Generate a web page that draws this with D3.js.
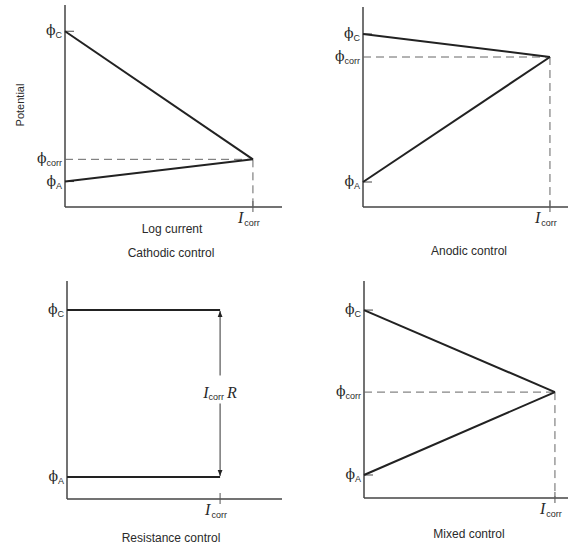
<!DOCTYPE html>
<html lang="en">
<head>
<meta charset="UTF-8">
<title>Corrosion control diagrams</title>
<script src="https://cdn.jsdelivr.net/npm/d3@7"></script>
<style>
  body { margin: 0; background: #fff; }
  text { fill: #2a2a2a; }
  .cap { font-family: "Liberation Sans", Arial, sans-serif; font-size: 12px; }
  .sym { font-family: "DejaVu Serif", serif; font-size: 14px; }
  .sub { font-family: "Liberation Sans", Arial, sans-serif; font-size: 9px; }
  .ital { font-family: "Liberation Serif", serif; font-style: italic; font-size: 16px; }
</style>
</head>
<body>
<script>
    // potentials and currents, on a 0-100 scale for each small diagram
    var titles  = ["Cathodic control", "Anodic control", "Resistance control", "Mixed control"];
    var phiC    = [87, 86.5, 86.7, 86.6];
    var phiCorr = [23.6, 75, null, 48.8];
    var phiA    = [12.6, 12.5, 10.1, 10.6];
    var iCorr   = [86.6, 91.2, 71.2, 93.6];

    var w = 568, h = 546;

    // where each little plot sits on the page
    var frames = [
        { x0: 65,  x1: 282, top: 5,   bottom: 207, titleY: 257 },
        { x0: 363, x1: 568, top: 7,   bottom: 207, titleY: 255 },
        { x0: 67,  x1: 282, top: 281, bottom: 499, titleY: 542 },
        { x0: 364, x1: 568, top: 281, bottom: 498, titleY: 538 }
    ];

    var svg = d3.select("body").append("svg")
        .attr("width", w)
        .attr("height", h);

    var defs = svg.append("defs");
    defs.append("marker")
        .attr("id", "arr")
        .attr("viewBox", "0 0 10 10")
        .attr("refX", 10).attr("refY", 5)
        .attr("markerWidth", 6).attr("markerHeight", 6)
        .attr("orient", "auto-start-reverse")
        .append("path")
        .attr("d", "M0,1 L10,5 L0,9 z")
        .attr("fill", "#222");

    function phiLabel(g, x, y, sub) {
        var t = g.append("text")
            .attr("x", x).attr("y", y + 4)
            .attr("text-anchor", "end");
        t.append("tspan").attr("class", "sym").text("\u03D5");
        t.append("tspan").attr("class", "sub").attr("dy", 3).text(sub);
    }

    frames.forEach(function(f, i) {
        var g = svg.append("g");
        var x = d3.scaleLinear().domain([0, 100]).range([f.x0, f.x1]);
        var y = d3.scaleLinear().domain([0, 100]).range([f.bottom, f.top]);

        // axes
        g.append("line")
            .attr("x1", x(0)).attr("x2", x(0))
            .attr("y1", y(0)).attr("y2", y(100))
            .attr("stroke", "#444").attr("stroke-width", 1.5);
        g.append("line")
            .attr("x1", x(0)).attr("x2", x(100))
            .attr("y1", y(0)).attr("y2", y(0))
            .attr("stroke", "#444").attr("stroke-width", 1.5);

        // little ticks at the potentials and the current
        [phiC[i], phiA[i]].forEach(function(v) {
            g.append("line")
                .attr("x1", x(0)).attr("x2", x(0) + 9)
                .attr("y1", y(v)).attr("y2", y(v))
                .attr("stroke", "#444").attr("stroke-width", 1);
        });
        g.append("line")
            .attr("x1", x(iCorr[i])).attr("x2", x(iCorr[i]))
            .attr("y1", y(0) - 6).attr("y2", y(0) + 5)
            .attr("stroke", "#555").attr("stroke-width", 1);

        if (phiCorr[i] !== null) {
            // dashed guides
            g.append("path")
                .attr("d", "M" + x(0) + "," + y(phiCorr[i]) + "H" + x(iCorr[i]))
                .attr("fill", "none").attr("stroke", "#666")
                .attr("stroke-width", 1).attr("stroke-dasharray", "8,5");
            g.append("path")
                .attr("d", "M" + x(iCorr[i]) + "," + y(phiCorr[i]) + "V" + y(0))
                .attr("fill", "none").attr("stroke", "#666")
                .attr("stroke-width", 1).attr("stroke-dasharray", "8,5");

            var line = d3.line().x(function(d) { return x(d[0]); }).y(function(d) { return y(d[1]); });
            [[[0, phiC[i]], [iCorr[i], phiCorr[i]]], [[0, phiA[i]], [iCorr[i], phiCorr[i]]]].forEach(function(seg) {
                g.append("path")
                    .attr("d", line(seg))
                    .attr("fill", "none").attr("stroke", "#222").attr("stroke-width", 2);
            });
            phiLabel(g, x(0) - 3, y(phiCorr[i]), "corr");
        } else {
            // resistance: flat lines joined by the IR drop
            [phiC[i], phiA[i]].forEach(function(v) {
                g.append("line")
                    .attr("x1", x(0)).attr("x2", x(iCorr[i]))
                    .attr("y1", y(v)).attr("y2", y(v))
                    .attr("stroke", "#222").attr("stroke-width", 2);
            });
            var mid = (y(phiC[i]) + y(phiA[i])) / 2;
            g.append("line")
                .attr("x1", x(iCorr[i])).attr("x2", x(iCorr[i]))
                .attr("y1", mid - 18).attr("y2", y(phiC[i]) + 1)
                .attr("stroke", "#333").attr("stroke-width", 1)
                .attr("marker-end", "url(#arr)");
            g.append("line")
                .attr("x1", x(iCorr[i])).attr("x2", x(iCorr[i]))
                .attr("y1", mid + 10).attr("y2", y(phiA[i]) - 1)
                .attr("stroke", "#333").attr("stroke-width", 1)
                .attr("marker-end", "url(#arr)");
            var ir = g.append("text")
                .attr("x", x(iCorr[i])).attr("y", mid + 5)
                .attr("text-anchor", "middle");
            ir.append("tspan").attr("class", "ital").text("I");
            ir.append("tspan").attr("class", "sub").attr("dy", 2).text("corr");
            ir.append("tspan").attr("class", "ital").attr("dy", -2).attr("dx", 3).text("R");
        }

        phiLabel(g, x(0) - 3, y(phiC[i]), "C");
        phiLabel(g, x(0) - 3, y(phiA[i]), "A");

        // current label under the axis
        var ic = g.append("text")
            .attr("x", x(iCorr[i]) - 15).attr("y", y(0) + 16);
        ic.append("tspan").attr("class", "ital").text("I");
        ic.append("tspan").attr("class", "sub").attr("dy", 3).attr("dx", 1).text("corr");

        g.append("text")
            .attr("class", "cap")
            .attr("x", i % 2 === 0 ? 171 : 469)
            .attr("y", f.titleY)
            .attr("text-anchor", "middle")
            .text(titles[i]);
    });

    // only the first diagram carries the axis names
    svg.append("text")
        .attr("class", "cap")
        .attr("transform", "translate(24,105) rotate(-90)")
        .attr("text-anchor", "middle")
        .style("font-size", "11px")
        .text("Potential");
    svg.append("text")
        .attr("class", "cap")
        .attr("x", 172).attr("y", 233)
        .attr("text-anchor", "middle")
        .text("Log current");
</script>
</body>
</html>
